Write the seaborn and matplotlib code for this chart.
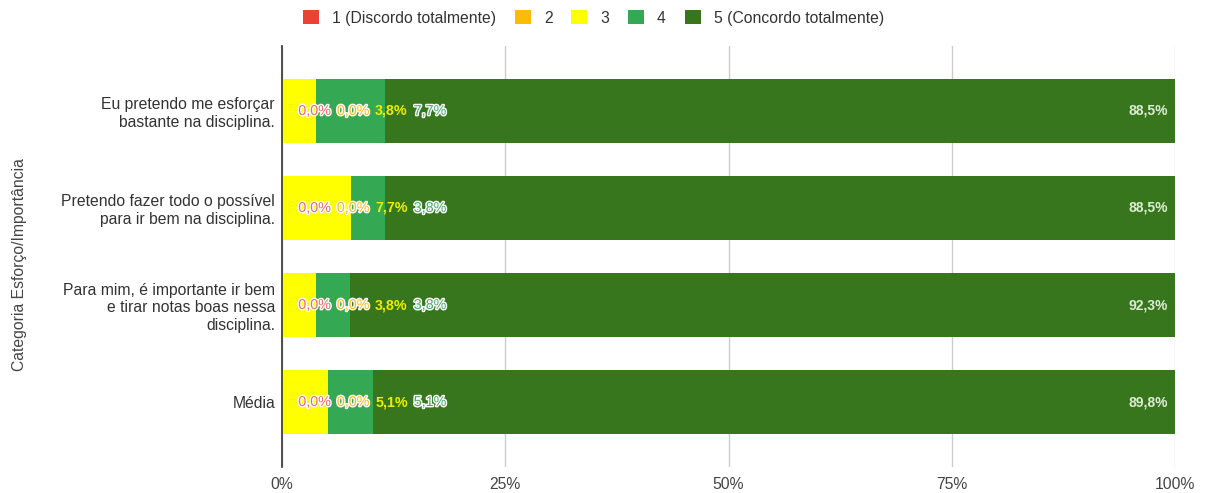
import matplotlib
matplotlib.use("Agg")
import matplotlib.pyplot as plt
import matplotlib.patheffects as pe
from matplotlib.patches import Patch
import numpy as np
import pandas as pd
import seaborn as sns

categories = [
    "Eu pretendo me esforçar\nbastante na disciplina.",
    "Pretendo fazer todo o possível\npara ir bem na disciplina.",
    "Para mim, é importante ir bem\ne tirar notas boas nessa\ndisciplina.",
    "Média",
]
series_names = ["1 (Discordo totalmente)", "2", "3", "4", "5 (Concordo totalmente)"]
s1 = [0.0, 0.0, 0.0, 0.0]
s2 = [0.0, 0.0, 0.0, 0.0]
s3 = [3.8, 7.7, 3.8, 5.1]
s4 = [7.7, 3.8, 3.8, 5.1]
s5 = [88.5, 88.5, 92.3, 89.8]
xticks = [0, 25, 50, 75, 100]
xtick_labels = ["0%", "25%", "50%", "75%", "100%"]
ylabel = "Categoria Esforço/Importância"

colors = ["#ea4335", "#fbbc04", "#ffff00", "#34a853", "#38761d"]
label_colors = ["#f06a62", "#fbb820", "#eeee00", "#45a865", "#dcebd3"]

sns.set_theme(style="white")
plt.rcParams["font.family"] = ["Liberation Sans", "DejaVu Sans"]

values = np.array([s1, s2, s3, s4, s5])
cum = np.cumsum(values, axis=0)
cum[-1] = 100.0

fig = plt.figure(figsize=(12.07, 4.93), dpi=100)
ax = fig.add_axes([282 / 1207, 1 - 467 / 493, (1175 - 282) / 1207, (467 - 46) / 493])

for k in range(len(series_names) - 1, -1, -1):
    df = pd.DataFrame({"cat": categories, "val": cum[k]})
    sns.barplot(data=df, y="cat", x="val", color=colors[k], orient="h",
                width=0.65, ax=ax, saturation=1, edgecolor="none", linewidth=0)

fs = 11.3
ax.set_xlim(0, 100)
ax.set_ylim(3.67, -0.67)
ax.set_xticks(xticks)
ax.set_xticklabels(xtick_labels, color="#444444", fontsize=fs)
ax.tick_params(axis="x", length=0, pad=7)
ax.tick_params(axis="y", length=0, pad=5, labelsize=fs, labelcolor="#333333")
for t in ax.get_yticklabels():
    t.set_horizontalalignment("right")
    t.set_multialignment("right")
ax.set_xlabel("")
ax.set_ylabel(ylabel, fontsize=fs, color="#444444")
ax.yaxis.set_label_coords(-0.285, 0.48)
ax.grid(axis="x", color="#cccccc", linewidth=1)
ax.set_axisbelow(True)
for sp in ["top", "right", "bottom"]:
    ax.spines[sp].set_visible(False)
ax.spines["left"].set_color("#333333")
ax.spines["left"].set_linewidth(1.2)
ax.spines["left"].set_zorder(5)

px = 0.72  # points per pixel at 100 dpi
for i in range(len(categories)):
    for k in range(4):
        v = values[k][i]
        txt = f"{v:.1f}".replace(".", ",") + "%"
        effects = [] if k == 2 else [pe.withStroke(linewidth=2.0, foreground="white")]
        ax.annotate(txt, xy=(0, i), xycoords="data",
                    xytext=((32.5 + 38.5 * k) * px, 0), textcoords="offset points",
                    ha="center", va="center", fontsize=10.3, color=label_colors[k],
                    fontweight="bold" if k == 2 else "normal",
                    path_effects=effects, zorder=6)
    v = values[4][i]
    txt = f"{v:.1f}".replace(".", ",") + "%"
    ax.annotate(txt, xy=(cum[4][i], i), xycoords="data",
                xytext=(-7 * px, 0), textcoords="offset points",
                ha="right", va="center", fontsize=10, color=label_colors[4],
                fontweight="bold", zorder=6)

handles = [Patch(facecolor=c, edgecolor="none") for c in colors]
fig.legend(handles, series_names, loc="center", bbox_to_anchor=(0.4917, 1 - 18 / 493),
           ncol=5, frameon=False, fontsize=fs, handlelength=1.0, handleheight=1.0,
           handletextpad=0.85, columnspacing=1.2, labelcolor="#333333")

fig.savefig("out.png", dpi=100)
